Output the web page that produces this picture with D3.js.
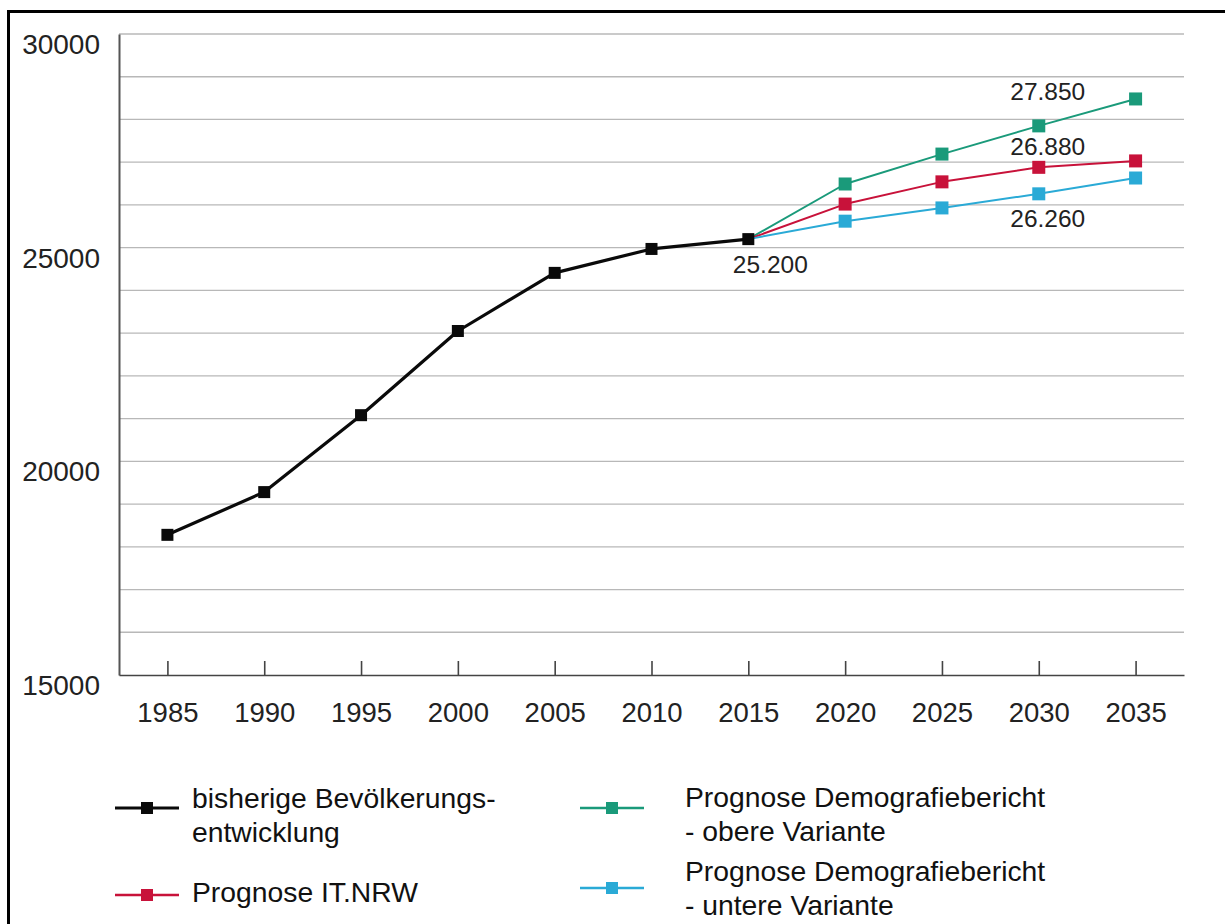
<!DOCTYPE html>
<html>
<head>
<meta charset="utf-8">
<script src="https://cdn.jsdelivr.net/npm/d3@7"></script>
<style>
  html, body { margin: 0; padding: 0; background: #fff; }
  svg { display: block; font-family: "Liberation Sans", Arial, sans-serif; }
</style>
</head>
<body>
<svg id="chart" width="1225" height="924"></svg>
<script>
// Einwohnerentwicklung und Prognosen
const years = [1985, 1990, 1995, 2000, 2005, 2010, 2015, 2020, 2025, 2030, 2035];
const yTicks = [15000, 20000, 25000, 30000];

const historyYears = [1985, 1990, 1995, 2000, 2005, 2010, 2015];
const historyValues = [18280, 19280, 21080, 23050, 24410, 24970, 25200];

const forecastYears = [2015, 2020, 2025, 2030, 2035];
const itnrwValues = [25200, 26020, 26540, 26880, 27030];
const upperValues = [25200, 26490, 27190, 27850, 28480];
const lowerValues = [25200, 25620, 25930, 26260, 26630];

const seriesNames = [
  ["bisherige Bevölkerungs-", "entwicklung"],
  ["Prognose IT.NRW"],
  ["Prognose Demografiebericht", "- obere Variante"],
  ["Prognose Demografiebericht", "- untere Variante"]
];

const colors = { history: "#0a0a0a", itnrw: "#c8123a", upper: "#1a9a7a", lower: "#2aaad6" };

const svg = d3.select("#chart");

// frame
svg.append("rect")
  .attr("x", 8.5).attr("y", 11.5)
  .attr("width", 1300).attr("height", 1000)
  .attr("fill", "none").attr("stroke", "#000").attr("stroke-width", 3);

const plot = { left: 119, right: 1184, top: 34, bottom: 675 };

const x = d3.scalePoint().domain(years).range([plot.left, plot.right]).padding(0.5);
const y = d3.scaleLinear().domain([15000, 30000]).range([plot.bottom, plot.top]);

// gridlines every 1000
const gridVals = d3.range(16000, 30001, 1000);
svg.append("g").selectAll("line").data(gridVals).join("line")
  .attr("x1", plot.left).attr("x2", plot.right)
  .attr("y1", d => y(d)).attr("y2", d => y(d))
  .attr("stroke", "#b8b8b8").attr("stroke-width", 1.3);

// y axis
const yAxis = svg.append("g")
  .attr("transform", `translate(${plot.left},0)`)
  .call(d3.axisLeft(y).tickValues(yTicks).tickSize(0).tickPadding(19).tickFormat(d3.format("d")));
yAxis.select(".domain").attr("stroke", "#555").attr("stroke-width", 2);
yAxis.selectAll("text")
  .attr("font-size", 28).attr("fill", "#222")
  .attr("font-family", "Liberation Sans, Arial, sans-serif")
  .attr("dy", 19.5).attr("dominant-baseline", "auto");

// x axis: ticks point inward
const xAxis = svg.append("g")
  .attr("transform", `translate(0,${plot.bottom})`)
  .call(d3.axisBottom(x).tickSize(-14).tickSizeOuter(0).tickPadding(0));
xAxis.select(".domain").attr("stroke", "#444").attr("stroke-width", 1.6);
xAxis.selectAll(".tick line").attr("stroke", "#444").attr("stroke-width", 1.6);
xAxis.selectAll("text")
  .attr("font-size", 27.5).attr("fill", "#222")
  .attr("font-family", "Liberation Sans, Arial, sans-serif")
  .attr("y", 47).attr("dy", 0);

const line = d3.line().x(d => x(d[0])).y(d => y(d[1]));

function drawSeries(xs, vals, color, width) {
  const pts = xs.map((yr, i) => [yr, vals[i]]);
  svg.append("path").datum(pts)
    .attr("d", line).attr("fill", "none")
    .attr("stroke", color).attr("stroke-width", width)
    .attr("stroke-linejoin", "round");
  return pts;
}

function drawMarkers(pts, color, size) {
  svg.append("g").selectAll("rect").data(pts).join("rect")
    .attr("x", d => x(d[0]) - size / 2).attr("y", d => y(d[1]) - size / 2)
    .attr("width", size).attr("height", size)
    .attr("fill", color);
}

const pUpper = drawSeries(forecastYears, upperValues, colors.upper, 2);
const pItnrw = drawSeries(forecastYears, itnrwValues, colors.itnrw, 2);
const pLower = drawSeries(forecastYears, lowerValues, colors.lower, 2);
const pHist = drawSeries(historyYears, historyValues, colors.history, 3.2);

drawMarkers(pUpper.slice(1), colors.upper, 13);
drawMarkers(pItnrw.slice(1), colors.itnrw, 13);
drawMarkers(pLower.slice(1), colors.lower, 13);
drawMarkers(pHist, colors.history, 12);

// value annotations (German number format)
const fmt = v => d3.format(",")(v).replace(/,/g, ".");
const notes = [
  { year: 2030, value: upperValues[3], dx: 9, dy: -26 },
  { year: 2030, value: itnrwValues[3], dx: 9, dy: -12 },
  { year: 2030, value: lowerValues[3], dx: 9, dy: 33 },
  { year: 2015, value: historyValues[6], dx: 22, dy: 34 }
];
svg.append("g").selectAll("text").data(notes).join("text")
  .attr("x", d => x(d.year) + d.dx).attr("y", d => y(d.value) + d.dy)
  .attr("text-anchor", "middle").attr("font-size", 24.5).attr("fill", "#222")
  .text(d => fmt(d.value));

// legend
const legend = [
  { color: colors.history, width: 3.2, size: 12, sx: 115, sy: 808, tx: 192, ty: 808, lines: seriesNames[0] },
  { color: colors.itnrw, width: 2.4, size: 12, sx: 115, sy: 895, tx: 192, ty: 902, lines: seriesNames[1] },
  { color: colors.upper, width: 2.4, size: 12, sx: 580, sy: 808, tx: 685, ty: 807, lines: seriesNames[2] },
  { color: colors.lower, width: 2.4, size: 12, sx: 580, sy: 888, tx: 685, ty: 881, lines: seriesNames[3] }
];
const lg = svg.append("g").selectAll("g").data(legend).join("g");
lg.append("line")
  .attr("x1", d => d.sx).attr("x2", d => d.sx + 64)
  .attr("y1", d => d.sy).attr("y2", d => d.sy)
  .attr("stroke", d => d.color).attr("stroke-width", d => d.width);
lg.append("rect")
  .attr("x", d => d.sx + 32 - d.size / 2).attr("y", d => d.sy - d.size / 2)
  .attr("width", d => d.size).attr("height", d => d.size)
  .attr("fill", d => d.color);
lg.append("text")
  .attr("font-size", 28.3).attr("fill", "#111")
  .each(function (d) {
    d3.select(this).selectAll("tspan").data(d.lines).join("tspan")
      .attr("x", d.tx).attr("y", (t, i) => d.ty + i * 34)
      .text(t => t);
  });
</script>
</body>
</html>
